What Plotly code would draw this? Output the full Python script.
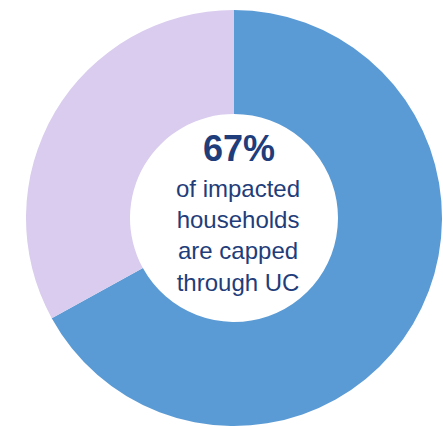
import plotly.graph_objects as go

# Share of impacted households capped through UC vs. other routes
labels = ["Capped through UC", "Other"]
values = [67, 33]
colors = ["#5B9BD5", "#D9CCEE"]

headline = "67%"
caption_lines = ["of impacted", "households", "are capped", "through UC"]

W, H = 443, 427
cx, cy, r = 234, 218, 208  # circle centre / radius in pixels (from top-left)

fig = go.Figure(
    go.Pie(
        labels=labels,
        values=values,
        hole=0.5,
        sort=False,
        direction="clockwise",
        rotation=0,
        marker=dict(colors=colors, line=dict(width=0)),
        textinfo="none",
        hoverinfo="label+percent",
        domain=dict(
            x=[(cx - r) / W, (cx + r) / W],
            y=[(H - cy - r) / H, (H - cy + r) / H],
        ),
    )
)

text_color = "#1F3D7A"
fig.add_annotation(
    x=238.5 / W, y=1 - 149 / H, xref="paper", yref="paper",
    xanchor="center", yanchor="middle",
    text=f"<b>{headline}</b>", showarrow=False,
    font=dict(family="Liberation Sans, Arial, sans-serif", size=36, color=text_color),
)
fig.add_annotation(
    x=237.5 / W, y=1 - 236 / H, xref="paper", yref="paper",
    xanchor="center", yanchor="middle",
    text="<br>".join(caption_lines), showarrow=False,
    font=dict(family="Liberation Sans, Arial, sans-serif", size=24, color=text_color),
)

fig.update_layout(
    width=W, height=H,
    margin=dict(l=0, r=0, t=0, b=0),
    showlegend=False,
    paper_bgcolor="white",
    plot_bgcolor="white",
)

fig.write_html("out.html")
